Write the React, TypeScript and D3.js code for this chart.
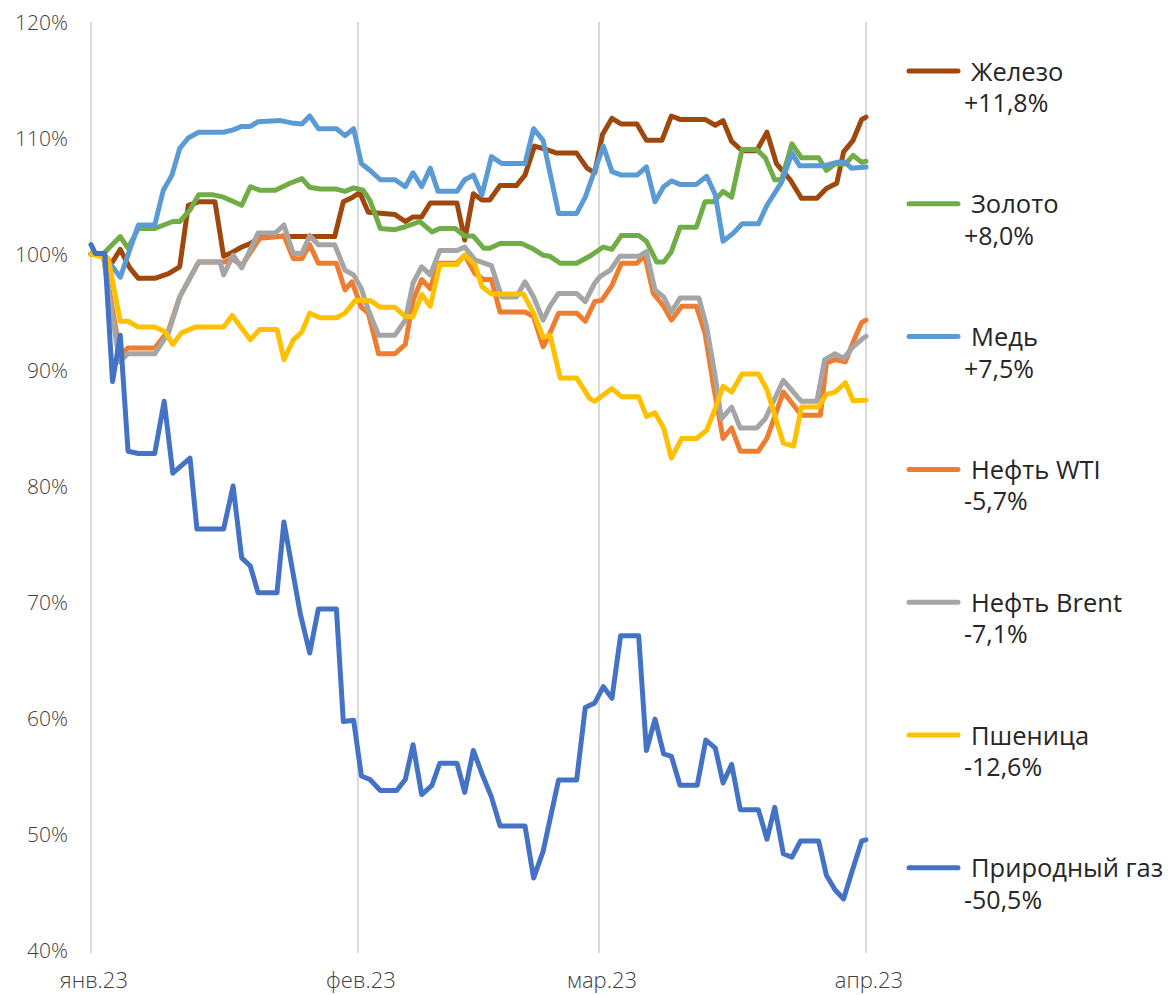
import React from 'react';
import * as d3 from 'd3';

// values in % of 1 Jan 2023 level, [day since 1 Jan, value]
const iron: [number, number][] = [
  [0, 100], [1.4, 100], [2.4, 99.2], [3.4, 100.4], [4.5, 98.8], [5.5, 97.9], [7.4, 97.9], [9, 98.3],
  [10.3, 98.9], [11.3, 104.2], [12.5, 104.5], [14.4, 104.5], [15.4, 99.8], [16.3, 100.1], [17.5, 100.6],
  [18.5, 100.9], [19.8, 101.5], [28.3, 101.5], [29.3, 104.5], [30.4, 104.9], [31.2, 105.3], [32.2, 103.6],
  [35.3, 103.4], [36.5, 102.8], [37.4, 103.2], [38.4, 103.2], [39.4, 104.4], [42.5, 104.4], [43.4, 101.2],
  [44.4, 105.2], [45.4, 104.65], [46.3, 104.65], [47.5, 105.9], [49.4, 105.9], [50.4, 106.8], [51.5, 109.3],
  [52.9, 109.0], [54.1, 108.7], [56.4, 108.7], [57.6, 107.4], [58.5, 107.0], [59.4, 110.3], [60.5, 111.7],
  [61.6, 111.2], [63.4, 111.2], [64.5, 109.8], [66.3, 109.8], [67.4, 111.9], [68.4, 111.6], [71.3, 111.6],
  [72.5, 111.1], [73.4, 111.5], [74.4, 109.7], [75.6, 108.9], [77.3, 108.9], [78.5, 110.5], [79.6, 107.8],
  [81.2, 106.4], [82.5, 104.8], [84.3, 104.8], [85.4, 105.65], [86.6, 106.1], [87.4, 108.8], [88.5, 109.8],
  [89.5, 111.6], [90, 111.8],
];

const gold: [number, number][] = [
  [0, 100], [1.4, 100], [3.4, 101.5], [4.3, 100.5], [5.5, 102.2], [7.4, 102.2], [9.5, 102.8], [10.3, 102.8],
  [11.5, 103.8], [12.5, 105.1], [14.2, 105.1], [15.4, 104.9], [17.5, 104.2], [18.5, 105.8], [19.6, 105.5],
  [21.4, 105.5], [23.1, 106.1], [24.5, 106.5], [25.4, 105.75], [26.6, 105.6], [28.5, 105.6], [29.5, 105.4],
  [30.5, 105.7], [31.6, 105.5], [32.4, 104.6], [33.6, 102.2], [35.3, 102.1], [36.5, 102.35], [38.2, 102.8],
  [39.6, 101.9], [40.5, 102.2], [42.3, 102.2], [43.4, 101.55], [44.4, 101.55], [45.6, 100.5], [46.3, 100.5],
  [47.5, 100.9], [50, 100.9], [51.2, 100.5], [52.5, 99.9], [53.3, 99.8], [54.5, 99.2], [56.4, 99.2],
  [57.9, 99.8], [59.5, 100.6], [60.5, 100.4], [61.6, 101.6], [63.6, 101.6], [64.5, 101.1], [65.7, 99.3],
  [66.5, 99.3], [67.4, 100.2], [68.4, 102.3], [70.3, 102.3], [71.3, 104.5], [72.3, 104.5], [73.4, 105.4],
  [74.4, 104.9], [75.6, 109.0], [77.3, 109.0], [78.3, 108.3], [79.4, 106.4], [80.2, 106.4], [81.4, 109.5],
  [82.5, 108.3], [84.5, 108.3], [85.4, 107.2], [86.4, 107.75], [87.6, 107.75], [88.5, 108.5], [89.5, 107.9],
  [90, 108.0],
];

const copper: [number, number][] = [
  [0, 100], [1.4, 100], [3.4, 98.0], [5.5, 102.5], [7.4, 102.5], [8.4, 105.5], [9.4, 106.8], [10.3, 109.1],
  [11.3, 110.0], [12.5, 110.5], [15.4, 110.5], [16.5, 110.7], [17.5, 111.0], [18.5, 111.0], [19.4, 111.4],
  [22, 111.5], [23.3, 111.3], [24.5, 111.2], [25.4, 111.9], [26.4, 110.8], [28.5, 110.8], [29.5, 110.2],
  [30.5, 110.8], [31.4, 107.8], [32.4, 107.2], [33.6, 106.4], [35.3, 106.4], [36.5, 105.8], [37.4, 107.0],
  [38.4, 105.8], [39.4, 107.4], [40.3, 105.4], [42.5, 105.4], [43.4, 106.4], [44.4, 106.8], [45.4, 105.1],
  [46.5, 108.4], [47.7, 107.8], [50.4, 107.8], [51.4, 110.8], [52.5, 109.8], [53.3, 107.0], [54.3, 103.5],
  [56.4, 103.5], [57.4, 104.9], [58.5, 107.2], [59.5, 109.3], [60.5, 107.1], [61.6, 106.8], [63.4, 106.8],
  [64.5, 107.5], [65.5, 104.5], [66.5, 105.8], [67.4, 106.3], [68.4, 106.0], [70.3, 106.0], [71.5, 106.7],
  [72.5, 105.1], [73.4, 101.1], [74.6, 101.8], [75.6, 102.6], [77.5, 102.6], [78.5, 104.2], [80.2, 106.2],
  [81.4, 108.7], [82.3, 107.6], [85.1, 107.6], [86.6, 107.9], [87.6, 107.9], [88.3, 107.4], [90, 107.5],
];

const wti: [number, number][] = [
  [0, 100], [1.4, 100], [3.4, 91.3], [4.3, 91.9], [7.4, 91.9], [9, 93.4], [10.3, 96.3], [12.5, 99.3],
  [15.4, 99.3], [16.4, 99.6], [17.5, 99.0], [19.6, 101.35], [22, 101.5], [22.4, 101.6], [23.5, 99.6],
  [24.5, 99.6], [25.4, 100.8], [26.4, 99.2], [28.5, 99.2], [29.5, 96.9], [30.3, 97.6], [31.4, 95.4],
  [32.2, 94.9], [33.4, 91.4], [35.3, 91.4], [36.5, 92.2], [37.4, 96.0], [38.4, 97.8], [39.4, 97.0],
  [40.3, 99.2], [42.5, 99.2], [43.4, 99.9], [44.6, 98.3], [45.6, 97.8], [46.5, 97.8], [47.5, 95.0],
  [50.4, 95.0], [51.4, 94.6], [52.5, 92.0], [53.3, 93.2], [54.3, 94.9], [56.4, 94.9], [57.4, 94.2],
  [58.5, 95.9], [59.3, 96.0], [60.5, 97.3], [61.6, 99.2], [63.4, 99.2], [64.3, 99.9], [65.3, 96.6],
  [66.5, 95.5], [67.4, 94.3], [68.6, 95.5], [70.3, 95.5], [71.3, 93.2], [72.3, 88.6], [73.4, 84.1],
  [74.4, 85.0], [75.4, 83.0], [77.5, 83.0], [78.5, 84.1], [80.4, 88.1], [82.5, 86.1], [84.7, 86.1],
  [85.4, 90.6], [86.4, 90.9], [87.6, 90.7], [88.5, 92.4], [89.5, 94.1], [90, 94.3],
];

const brent: [number, number][] = [
  [0, 100], [1.4, 100], [3.3, 90.7], [4.3, 91.4], [7.4, 91.4], [9, 93.2], [10.3, 96.3], [12.5, 99.3],
  [15, 99.3], [15.4, 98.2], [16.5, 99.9], [17.5, 98.8], [19.4, 101.8], [21.4, 101.8], [22.4, 102.5],
  [23.5, 100.05], [24.5, 100.05], [25.4, 101.6], [26.4, 100.8], [28.3, 100.8], [29.5, 98.6], [30.5, 98.2],
  [31.4, 97.0], [32.2, 95.2], [33.4, 93.0], [35.3, 93.0], [36.5, 94.3], [37.4, 97.5], [38.4, 98.9],
  [39.4, 98.2], [40.5, 100.3], [42.5, 100.3], [43.4, 100.6], [44.6, 99.5], [46.5, 99.0], [47.7, 96.3],
  [49.4, 96.3], [50.4, 97.6], [51.4, 96.3], [52.5, 94.3], [53.3, 95.5], [54.3, 96.6], [56.4, 96.6],
  [57.4, 95.9], [58.5, 97.5], [59.1, 98.05], [60.3, 98.6], [61.4, 99.8], [63.6, 99.8], [64.5, 100.2],
  [65.5, 96.9], [66.5, 96.3], [67.4, 95.0], [68.4, 96.2], [70.6, 96.2], [71.5, 93.7], [72.5, 89.4],
  [73.2, 85.8], [74.4, 86.8], [75.4, 85.0], [77.3, 85.0], [78.3, 85.8], [80.4, 89.1], [82.5, 87.3],
  [84.3, 87.3], [85.2, 90.9], [86.4, 91.4], [87.4, 91.0], [88.5, 92.0], [89.5, 92.65], [90, 92.9],
];

const wheat: [number, number][] = [
  [0, 100], [2, 99.6], [3.4, 94.2], [4.3, 94.2], [5.5, 93.7], [7.4, 93.7], [8.6, 93.3], [9.5, 92.2],
  [10.5, 93.2], [12.1, 93.7], [15.4, 93.7], [16.4, 94.7], [18.5, 92.6], [19.6, 93.5], [21.6, 93.5],
  [22.4, 90.9], [23.5, 92.6], [24.5, 93.3], [25.4, 94.9], [26.6, 94.5], [28.5, 94.5], [29.5, 94.9],
  [30.7, 96.0], [32.4, 96.0], [33.6, 95.4], [35.3, 95.4], [36.5, 94.6], [37.4, 94.6], [38.4, 96.5],
  [39.4, 95.5], [40.5, 99.1], [42.5, 99.1], [43.4, 99.9], [44.6, 99.05], [45.4, 97.2], [46.5, 96.55],
  [50.2, 96.55], [51.4, 94.9], [52.5, 92.8], [53.3, 93.0], [54.5, 89.3], [56.4, 89.3], [57.9, 87.55],
  [58.5, 87.3], [60.5, 88.4], [61.6, 87.7], [63.6, 87.7], [64.5, 86.0], [65.5, 86.3], [66.5, 85.0],
  [67.4, 82.4], [68.6, 84.1], [70.3, 84.1], [71.5, 84.8], [72.5, 86.7], [73.4, 88.6], [74.4, 88.1],
  [75.6, 89.65], [77.5, 89.65], [78.5, 88.3], [79.4, 86.1], [80.4, 83.7], [81.6, 83.45], [82.5, 86.8],
  [84.5, 86.8], [85.4, 87.9], [86.4, 88.1], [87.6, 88.9], [88.5, 87.35], [90, 87.4],
];

const gas: [number, number][] = [
  [0, 100.8], [0.5, 100.05], [1.6, 100.05], [2.5, 89.0], [3.4, 93.0], [4.3, 83.0], [5.5, 82.8],
  [7.4, 82.8], [8.5, 87.3], [9.5, 81.1], [11.5, 82.4], [12.3, 76.3], [15.4, 76.3], [16.5, 80.0],
  [17.5, 73.8], [18.5, 73.1], [19.4, 70.8], [21.6, 70.8], [22.4, 76.9], [24.3, 69.0], [25.4, 65.6],
  [26.4, 69.4], [28.5, 69.4], [29.3, 59.7], [30.5, 59.8], [31.4, 55.0], [32.4, 54.7], [33.6, 53.75],
  [35.5, 53.75], [36.5, 54.7], [37.4, 57.7], [38.4, 53.4], [39.6, 54.2], [40.5, 56.1], [42.5, 56.1],
  [43.4, 53.6], [44.4, 57.2], [45.4, 55.2], [46.5, 53.2], [47.5, 50.7], [50.4, 50.7], [51.4, 46.2],
  [52.5, 48.5], [54.3, 54.65], [56.4, 54.65], [57.4, 60.9], [58.5, 61.3], [59.5, 62.7], [60.5, 61.7],
  [61.5, 67.1], [63.6, 67.1], [64.5, 57.2], [65.5, 59.9], [66.5, 56.9], [67.4, 56.7], [68.4, 54.2],
  [70.4, 54.2], [71.4, 58.1], [72.5, 57.4], [73.4, 54.4], [74.4, 56.0], [75.4, 52.1], [77.5, 52.1],
  [78.5, 49.55], [79.4, 52.3], [80.4, 48.3], [81.4, 48.0], [82.4, 49.4], [84.5, 49.4], [85.4, 46.45],
  [86.4, 45.2], [87.4, 44.4], [88.3, 46.6], [89.5, 49.4], [90, 49.5],
];

const seriesNames = ['Железо', 'Золото', 'Медь', 'Нефть WTI', 'Нефть Brent', 'Пшеница', 'Природный газ'];
const seriesChanges = ['+11,8%', '+8,0%', '+7,5%', '-5,7%', '-7,1%', '-12,6%', '-50,5%'];
const seriesColors = ['#9e480e', '#70ad47', '#5b9bd5', '#ed7d31', '#a5a5a5', '#ffc000', '#4472c4'];
const seriesData = [iron, gold, copper, wti, brent, wheat, gas];

const yTicks = [40, 50, 60, 70, 80, 90, 100, 110, 120];
const monthLabels = ['янв.23', 'фев.23', 'мар.23', 'апр.23'];

const W = 1168;
const H = 995;
const START = Date.UTC(2023, 0, 1);
const toDate = (d: number) => new Date(START + d * 864e5);
const FONT = '"Open Sans", "DejaVu Sans", sans-serif';

export default function App() {
  const x = d3.scaleUtc().domain([toDate(0), toDate(90)]).range([91, 866]);
  const y = d3.scaleLinear().domain([40, 120]).range([950, 22]);
  const months = d3.utcMonth.range(toDate(0), toDate(91));

  const line = d3.line<[number, number]>()
    .x((p) => x(toDate(p[0])))
    .y((p) => y(p[1]));

  return (
    <svg width={W} height={H} style={{ position: 'absolute', left: 0, top: 0, background: '#fff' }}
      fontFamily={FONT} fontWeight={300}>
      {/* vertical month gridlines */}
      {months.map((m, i) => (
        <g key={i}>
          <line x1={x(m)} x2={x(m)} y1={22} y2={953} stroke="#d9d9d9" strokeWidth={2} />
          <text x={x(m) + 3} y={988} textAnchor="middle" fontSize={22} fill="#404040">
            {monthLabels[i]}
          </text>
        </g>
      ))}

      {/* y axis labels */}
      {yTicks.map((t) => (
        <text key={t} x={68} y={y(t)} dy="0.36em" textAnchor="end" fontSize={21} fill="#404040">
          {t}%
        </text>
      ))}

      {/* series */}
      {seriesData.map((s, i) => (
        <path key={i} d={line(s) || ''} fill="none" stroke={seriesColors[i]} strokeWidth={5}
          strokeLinejoin="round" strokeLinecap="round" />
      ))}

      {/* legend */}
      {seriesNames.map((name, i) => {
        const ly = 71 + i * 132.8;
        return (
          <g key={name} fontWeight={400} fill="#262626">
            <line x1={909} x2={958} y1={ly} y2={ly} stroke={seriesColors[i]} strokeWidth={5}
              strokeLinecap="round" />
            <text x={971} y={ly + 9.5} fontSize={25.5}>{name}</text>
            <text x={964} y={ly + 41} fontSize={25}>{seriesChanges[i]}</text>
          </g>
        );
      })}
    </svg>
  );
}
